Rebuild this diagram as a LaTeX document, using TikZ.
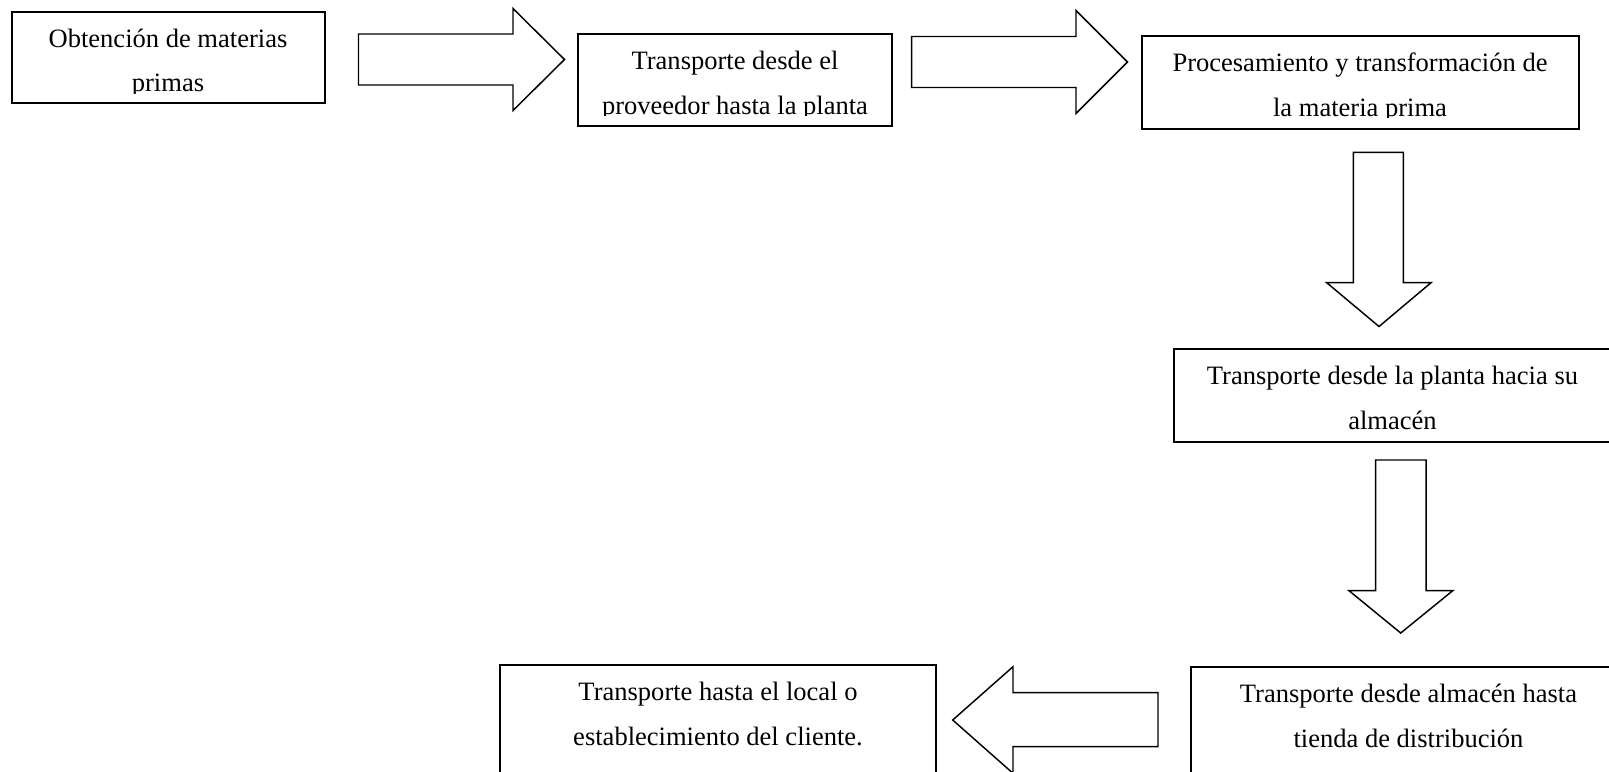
\documentclass[tikz,border=0pt]{standalone}
\usepackage{fontspec}
\setmainfont{Liberation Serif}
\usetikzlibrary{fit}
\begin{document}
\begin{tikzpicture}[x=0.75pt,y=-0.75pt,
  box/.style={draw, line width=1.5pt, inner sep=0pt},
  blockarrow/.style={draw, line width=1.1pt, line join=miter, fill=white},
  lbl/.style={anchor=base, inner sep=0pt, font=\fontsize{19.9}{24}\selectfont}]
\fill[white] (0,0) rectangle (1609,771);
\useasboundingbox (0,0) rectangle (1609,771);
\clip (0,0) rectangle (1609,771);

% ---------- boxes ----------
\coordinate (b1a) at (11.5,11.5);  \coordinate (b1b) at (324.5,103);
\coordinate (b2a) at (577.5,34);   \coordinate (b2b) at (891.5,126);
\coordinate (b3a) at (1142,36);    \coordinate (b3b) at (1579,129);
\coordinate (b4a) at (1174,349);   \coordinate (b4b) at (1612,441.5);
\coordinate (b5a) at (1191,667);   \coordinate (b5b) at (1630,790);
\coordinate (b6a) at (500,665);    \coordinate (b6b) at (936,790);
\node[box, fit=(b1a)(b1b)] (b1) {};
\node[box, fit=(b2a)(b2b)] (b2) {};
\node[box, fit=(b3a)(b3b)] (b3) {};
\node[box, fit=(b4a)(b4b)] (b4) {};
\node[box, fit=(b5a)(b5b)] (b5) {};
\node[box, fit=(b6a)(b6b)] (b6) {};

% ---------- texts ----------
\begin{scope}
\clip (11.5,11.5) rectangle (324.5,93);
\node[lbl] (t1a) at (168,47.2) {Obtención de materias};
\node[lbl] (t1b) at (168,91.7) {primas};
\end{scope}
\begin{scope}
\clip (577.5,34) rectangle (891.5,115);
\node[lbl] (t2a) at (735,69.7) {Transporte desde el};
\node[lbl] (t2b) at (735,114.2) {proveedor hasta la planta};
\end{scope}
\begin{scope}
\clip (1142,36) rectangle (1579,117.5);
\node[lbl] (t3a) at (1360,71.7) {Procesamiento y transformación de};
\node[lbl] (t3b) at (1360,116.2) {la materia prima};
\end{scope}
\node[lbl] (t4a) at (1392.5,384.7) {Transporte desde la planta hacia su};
\node[lbl] (t4b) at (1392.5,429.2) {almacén};
\node[lbl] (t5a) at (1408.5,702.7) {Transporte desde almacén hasta};
\node[lbl] (t5b) at (1408.5,747.2) {tienda de distribución};
\node[lbl] (t6a) at (718,700.7) {Transporte hasta el local o};
\node[lbl] (t6b) at (718,745.2) {establecimiento del cliente.};

% ---------- block arrows ----------
\draw[blockarrow] (358.5,34) -- (513,34) -- (513,8.5) -- (564.5,59.5)
  -- (513,110.5) -- (513,85) -- (358.5,85) -- cycle;
\draw[blockarrow] (911.7,36.5) -- (1076,36.5) -- (1076,10.5) -- (1127.5,62)
  -- (1076,113.5) -- (1076,87.5) -- (911.7,87.5) -- cycle;
\draw[blockarrow] (1353.3,152.3) -- (1403.3,152.3) -- (1403.3,282.7) -- (1431,282.7)
  -- (1379,326.5) -- (1326.7,282.7) -- (1353.3,282.7) -- cycle;
\draw[blockarrow] (1375.7,460) -- (1426,460) -- (1426,590.7) -- (1452.7,590.7)
  -- (1400.7,633) -- (1349,590.7) -- (1375.7,590.7) -- cycle;
\draw[blockarrow] (1158,692.7) -- (1013,692.7) -- (1013,666.7) -- (952.7,720)
  -- (1013,773.3) -- (1013,746.7) -- (1158,746.7) -- cycle;
\end{tikzpicture}
\end{document}
